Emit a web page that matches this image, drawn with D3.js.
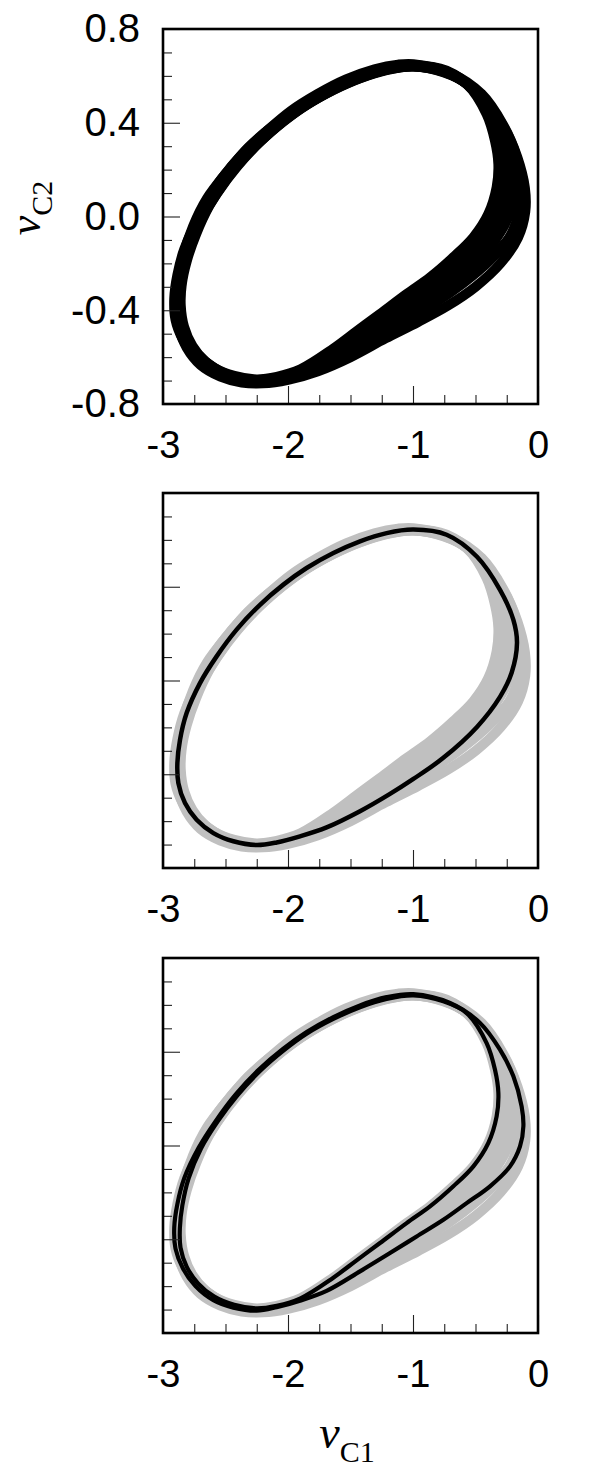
<!DOCTYPE html>
<html>
<head>
<meta charset="utf-8">
<script src="https://cdn.jsdelivr.net/npm/d3@7"></script>
<style>
  html, body { margin: 0; padding: 0; background: #fff; }
  svg { display: block; }
  .tick text { font-family: "Liberation Sans", Arial, sans-serif; }
</style>
</head>
<body>
<svg id="chart" width="595" height="1476"></svg>
<script>
// ---------------- DATA ----------------
const xDomain = [-3, 0];
const yDomain = [-0.8, 0.8];
const xMajorTicks = [-3, -2, -1, 0];
const xTickLabels = ["-3", "-2", "-1", "0"];
const xMinorTicks = [-2.75, -2.5, -2.25, -1.75, -1.5, -1.25, -0.75, -0.5, -0.25];
const yMajorTicks = [-0.8, -0.4, 0, 0.4, 0.8];
const yTickLabels = ["-0.8", "-0.4", "0.0", "0.4", "0.8"];
const yMinorTicks = [-0.7, -0.6, -0.5, -0.3, -0.2, -0.1, 0.1, 0.2, 0.3, 0.5, 0.6, 0.7];

// Single periodic orbit (panel 2, black) : [vC1, vC2]
const cycleP1 = [
  [-0.997, 0.644], [-0.731, 0.622], [-0.488, 0.528], [-0.304, 0.387], [-0.197, 0.259],
  [-0.168, 0.161], [-0.211, 0.033], [-0.304, -0.070], [-0.488, -0.198], [-0.760, -0.331],
  [-0.997, -0.420], [-1.184, -0.484], [-1.424, -0.558], [-1.691, -0.627], [-1.904, -0.665],
  [-2.091, -0.691], [-2.251, -0.702], [-2.437, -0.686], [-2.597, -0.651], [-2.731, -0.594],
  [-2.824, -0.523], [-2.877, -0.438], [-2.885, -0.352], [-2.864, -0.253], [-2.811, -0.139],
  [-2.704, -0.011], [-2.571, 0.103], [-2.411, 0.217], [-2.224, 0.323], [-2.037, 0.409],
  [-1.851, 0.480], [-1.637, 0.544], [-1.424, 0.594], [-1.211, 0.629]
];

// Period-2 orbit, inner loop (panel 3, black)
const cycleP2a = [
  [-0.997, 0.640], [-0.757, 0.615], [-0.571, 0.565], [-0.411, 0.437], [-0.344, 0.323],
  [-0.317, 0.224], [-0.331, 0.124], [-0.397, 0.011], [-0.517, -0.089], [-0.677, -0.174],
  [-0.864, -0.260], [-1.051, -0.331], [-1.264, -0.416], [-1.451, -0.490], [-1.640, -0.565],
  [-1.900, -0.652], [-2.090, -0.684], [-2.250, -0.695], [-2.430, -0.680], [-2.590, -0.645],
  [-2.720, -0.588], [-2.810, -0.518], [-2.860, -0.436], [-2.865, -0.352], [-2.845, -0.255],
  [-2.795, -0.140], [-2.695, -0.012], [-2.565, 0.101], [-2.405, 0.214], [-2.220, 0.320],
  [-2.034, 0.406], [-1.851, 0.477], [-1.637, 0.540], [-1.424, 0.590], [-1.211, 0.625]
];

// Period-2 orbit, outer loop (panel 3, black)
const cycleP2b = [
  [-0.997, 0.646], [-0.704, 0.608], [-0.464, 0.523], [-0.304, 0.409], [-0.197, 0.295],
  [-0.131, 0.167], [-0.117, 0.082], [-0.144, -0.004], [-0.224, -0.089], [-0.384, -0.174],
  [-0.571, -0.246], [-0.757, -0.317], [-0.971, -0.388], [-1.184, -0.459], [-1.424, -0.537],
  [-1.691, -0.620], [-1.904, -0.662], [-2.091, -0.690], [-2.251, -0.705], [-2.437, -0.692],
  [-2.597, -0.660], [-2.740, -0.600], [-2.840, -0.525], [-2.900, -0.440], [-2.910, -0.350],
  [-2.885, -0.250], [-2.830, -0.140], [-2.715, -0.010], [-2.580, 0.103], [-2.418, 0.218],
  [-2.230, 0.325], [-2.040, 0.412], [-1.851, 0.484], [-1.637, 0.548], [-1.424, 0.598],
  [-1.211, 0.633]
];

// Additional passes of the chaotic trajectory (band of the attractor)
const passA = [
  [-0.997, 0.640], [-0.750, 0.616], [-0.550, 0.556], [-0.390, 0.428], [-0.310, 0.310],
  [-0.285, 0.200], [-0.300, 0.097], [-0.365, -0.015], [-0.488, -0.120], [-0.660, -0.212],
  [-0.862, -0.302], [-1.065, -0.376], [-1.282, -0.452], [-1.495, -0.530], [-1.710, -0.600],
  [-1.950, -0.668], [-2.135, -0.692], [-2.295, -0.698], [-2.470, -0.678], [-2.625, -0.635],
  [-2.750, -0.572], [-2.830, -0.494], [-2.868, -0.408], [-2.866, -0.320], [-2.836, -0.222],
  [-2.770, -0.105], [-2.668, 0.018], [-2.535, 0.130], [-2.372, 0.240], [-2.188, 0.337],
  [-1.996, 0.423], [-1.795, 0.494], [-1.580, 0.556], [-1.362, 0.603], [-1.165, 0.631]
];
const passB = [
  [-0.997, 0.641], [-0.745, 0.617], [-0.530, 0.548], [-0.370, 0.420], [-0.275, 0.300],
  [-0.250, 0.180], [-0.268, 0.070], [-0.335, -0.040], [-0.460, -0.150], [-0.640, -0.250],
  [-0.860, -0.345], [-1.080, -0.420], [-1.300, -0.490], [-1.540, -0.570], [-1.780, -0.635],
  [-2.000, -0.680], [-2.180, -0.700], [-2.340, -0.700], [-2.510, -0.675], [-2.660, -0.625],
  [-2.780, -0.555], [-2.850, -0.470], [-2.875, -0.380], [-2.862, -0.290], [-2.822, -0.190],
  [-2.745, -0.070], [-2.640, 0.050], [-2.505, 0.160], [-2.340, 0.265], [-2.155, 0.355],
  [-1.958, 0.440], [-1.750, 0.510], [-1.520, 0.572], [-1.300, 0.615], [-1.120, 0.637]
];
const passC = [
  [-0.997, 0.643], [-0.738, 0.619], [-0.505, 0.538], [-0.335, 0.403], [-0.235, 0.280],
  [-0.208, 0.170], [-0.235, 0.050], [-0.318, -0.060], [-0.474, -0.180], [-0.700, -0.288],
  [-0.930, -0.378], [-1.130, -0.446], [-1.360, -0.524], [-1.610, -0.600], [-1.840, -0.652],
  [-2.045, -0.686], [-2.215, -0.701], [-2.390, -0.693], [-2.555, -0.663], [-2.700, -0.610],
  [-2.800, -0.540], [-2.862, -0.455], [-2.880, -0.366], [-2.873, -0.272], [-2.838, -0.165],
  [-2.758, -0.040], [-2.650, 0.075], [-2.490, 0.188], [-2.318, 0.294], [-2.130, 0.382],
  [-1.905, 0.462], [-1.694, 0.527], [-1.472, 0.583], [-1.255, 0.622], [-1.110, 0.638]
];
const passD = [
  [-0.997, 0.645], [-0.720, 0.615], [-0.480, 0.525], [-0.300, 0.390], [-0.185, 0.250],
  [-0.138, 0.130], [-0.150, 0.020], [-0.230, -0.090], [-0.390, -0.190], [-0.600, -0.285],
  [-0.830, -0.370], [-1.060, -0.440], [-1.300, -0.515], [-1.560, -0.595], [-1.800, -0.648],
  [-2.010, -0.680], [-2.190, -0.697], [-2.350, -0.694], [-2.515, -0.668], [-2.660, -0.620],
  [-2.765, -0.552], [-2.832, -0.470], [-2.858, -0.380], [-2.850, -0.290], [-2.810, -0.190],
  [-2.735, -0.075], [-2.630, 0.045], [-2.495, 0.157], [-2.330, 0.264], [-2.150, 0.358],
  [-1.955, 0.445], [-1.745, 0.517], [-1.520, 0.578], [-1.300, 0.622], [-1.120, 0.642]
];
const passF = [
  [-0.997, 0.650], [-0.700, 0.612], [-0.450, 0.522], [-0.280, 0.392], [-0.165, 0.252],
  [-0.105, 0.122], [-0.102, 0.020], [-0.160, -0.090], [-0.300, -0.200], [-0.500, -0.300],
  [-0.720, -0.380], [-0.960, -0.450], [-1.220, -0.520], [-1.500, -0.600], [-1.760, -0.660],
  [-2.000, -0.697], [-2.200, -0.712], [-2.370, -0.708], [-2.540, -0.683], [-2.700, -0.633],
  [-2.810, -0.560], [-2.875, -0.470], [-2.895, -0.375], [-2.885, -0.280], [-2.845, -0.180],
  [-2.770, -0.065], [-2.665, 0.052], [-2.530, 0.162], [-2.362, 0.268], [-2.175, 0.362],
  [-1.978, 0.450], [-1.765, 0.522], [-1.535, 0.585], [-1.308, 0.628], [-1.120, 0.648]
];

const attractor = [cycleP2a, passA, passB, passC, cycleP1, passD, cycleP2b, passF];

// ---------------- LAYOUT ----------------
const svg = d3.select("#chart");
const plotLeft = 163, plotSize = 375;
const panelTops = [29, 493, 958];

const x = d3.scaleLinear().domain(xDomain).range([0, plotSize]);
const y = d3.scaleLinear().domain(yDomain).range([plotSize, 0]);

const line = d3.line()
  .x(d => x(d[0]))
  .y(d => y(d[1]))
  .curve(d3.curveCatmullRomClosed.alpha(0.5));

const panels = [
  { top: panelTops[0], layers: [{ data: attractor, color: "#000", width: 10 }], yLabels: true },
  { top: panelTops[1], layers: [{ data: attractor, color: "#c0c0c0", width: 10 }, { data: [cycleP1], color: "#000", width: 4.5 }], yLabels: false },
  { top: panelTops[2], layers: [{ data: attractor, color: "#c0c0c0", width: 10 }, { data: [cycleP2a, cycleP2b], color: "#000", width: 4.2 }], yLabels: false }
];

panels.forEach(p => {
  const g = svg.append("g").attr("transform", `translate(${plotLeft},${p.top})`);

  const clipId = "clip" + p.top;
  g.append("clipPath").attr("id", clipId).append("rect")
    .attr("width", plotSize).attr("height", plotSize);
  const cg = g.append("g").attr("clip-path", `url(#${clipId})`);
  p.layers.forEach(layer => {
    cg.selectAll(null).data(layer.data).enter().append("path")
      .attr("d", line)
      .attr("fill", "none")
      .attr("stroke", layer.color)
      .attr("stroke-width", layer.width)
      .attr("stroke-linejoin", "round");
  });

  // minor ticks
  const xMinorAxis = d3.axisBottom(x).tickValues(xMinorTicks).tickSize(-9).tickFormat("");
  const yMinorAxis = d3.axisLeft(y).tickValues(yMinorTicks).tickSize(-9).tickFormat("");
  g.append("g").attr("transform", `translate(0,${plotSize})`).call(xMinorAxis);
  g.append("g").call(yMinorAxis);

  // major ticks + labels
  const xAxis = d3.axisBottom(x).tickValues(xMajorTicks).tickSize(-18).tickPadding(27)
    .tickFormat((d, i) => xTickLabels[i]);
  const gx = g.append("g").attr("transform", `translate(0,${plotSize})`).call(xAxis);
  gx.selectAll("text").attr("font-size", 38).attr("fill", "#000");

  const yAxis = d3.axisLeft(y).tickValues(yMajorTicks).tickSize(-17).tickPadding(23)
    .tickFormat((d, i) => p.yLabels ? yTickLabels[i] : "");
  const gy = g.append("g").call(yAxis);
  gy.selectAll("text").attr("font-size", 40).attr("fill", "#000");

  g.selectAll(".domain").remove();
  g.selectAll(".tick line").attr("stroke", "#222").attr("stroke-width", 1.1);

  // frame
  g.append("rect").attr("width", plotSize).attr("height", plotSize)
    .attr("fill", "none").attr("stroke", "#000").attr("stroke-width", 2.6);
});

// axis titles
const yTitle = svg.append("text")
  .attr("transform", "translate(40,208) rotate(-90)")
  .attr("text-anchor", "middle")
  .attr("font-family", "'Liberation Serif', 'Times New Roman', serif");
yTitle.append("tspan").attr("font-style", "italic").attr("font-size", 44).text("v");
yTitle.append("tspan").attr("font-size", 30).attr("dy", 12).text("C2");

const xTitle = svg.append("text")
  .attr("x", 347).attr("y", 1448)
  .attr("text-anchor", "middle")
  .attr("font-family", "'Liberation Serif', 'Times New Roman', serif");
xTitle.append("tspan").attr("font-style", "italic").attr("font-size", 46).text("v");
xTitle.append("tspan").attr("font-size", 30).attr("dy", 14).text("C1");
</script>
</body>
</html>
